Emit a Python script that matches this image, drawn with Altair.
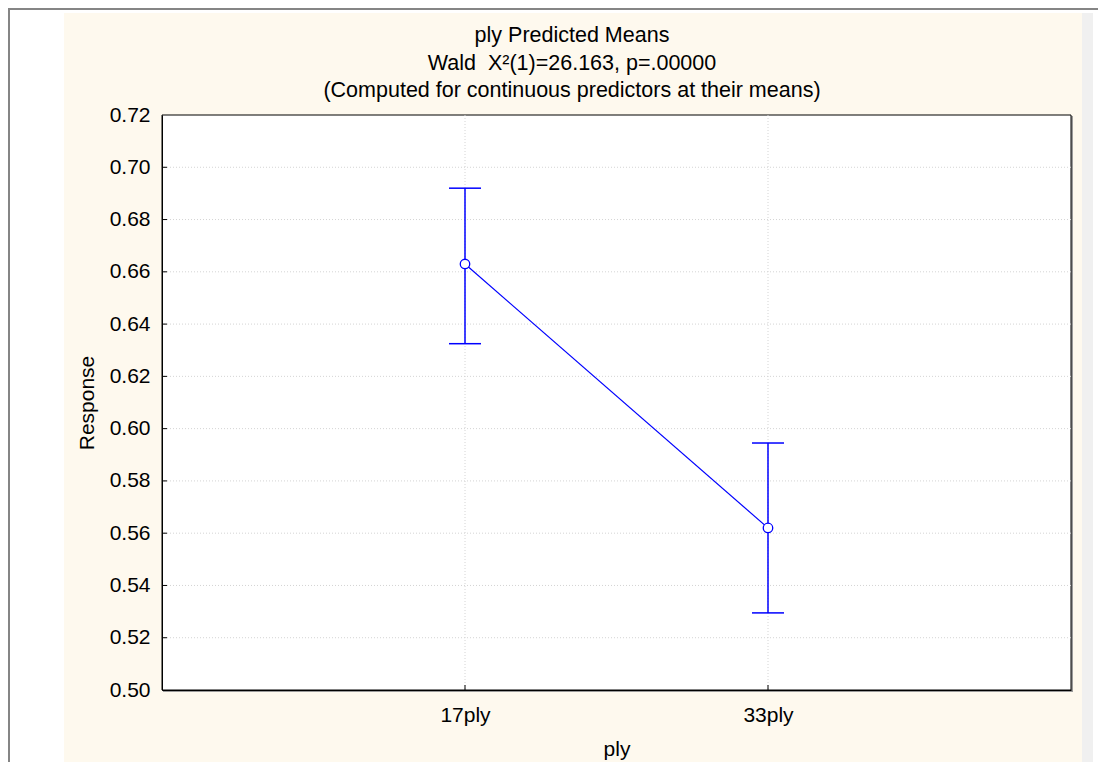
import altair as alt
import pandas as pd

# ---- data ----
plies = ["17ply", "33ply"]
means = [0.663, 0.562]
upper = [0.692, 0.5945]
lower = [0.6325, 0.5295]
y_ticks = [0.50, 0.52, 0.54, 0.56, 0.58, 0.60, 0.62, 0.64, 0.66, 0.68, 0.70, 0.72]

title_lines = [
    "ply Predicted Means",
    "Wald\u00a0 X\u00b2(1)=26.163, p=.00000",
    "(Computed for continuous predictors at their means)",
]

W, H = 909, 575
BLUE = "#0000ff"
FONT = "Liberation Sans"
CREAM = "#fef9ee"

df = pd.DataFrame({"ply": plies, "mean": means, "upper": upper, "lower": lower})
grid_y = pd.DataFrame({"v": y_ticks[1:-1]})
grid_x = pd.DataFrame({"ply": plies})

xs = alt.Scale(type="point", domain=plies, padding=1)
ys = alt.Scale(domain=[0.50, 0.72], nice=False, zero=False)

X = alt.X("ply:N", scale=xs, title="ply",
          axis=alt.Axis(labelAngle=0, labelPadding=14, titlePadding=13, zindex=1))
Y_AX = alt.Axis(values=y_ticks, format=".2f", labelPadding=12, titlePadding=12, zindex=1)

one = alt.Data(values=[{"a": 1}])

# decorative backdrop panels around the cream page
white_l = alt.Chart(one).mark_rect(fill="white").encode(
    x=alt.value(-154), x2=alt.value(-98), y=alt.value(-107), y2=alt.value(660))
white_t = alt.Chart(one).mark_rect(fill="white").encode(
    x=alt.value(-154), x2=alt.value(940), y=alt.value(-107), y2=alt.value(-102))
white_r = alt.Chart(one).mark_rect(fill="white").encode(
    x=alt.value(931), x2=alt.value(940), y=alt.value(-107), y2=alt.value(660))
strip = alt.Chart(one).mark_rect(fill="#f0f0f0").encode(
    x=alt.value(920), x2=alt.value(931), y=alt.value(-102), y2=alt.value(660))
border_l = alt.Chart(one).mark_rect(fill="#858585").encode(
    x=alt.value(-154), x2=alt.value(-152), y=alt.value(-107), y2=alt.value(660))
border_t = alt.Chart(one).mark_rect(fill="#858585").encode(
    x=alt.value(-154), x2=alt.value(940), y=alt.value(-107), y2=alt.value(-105))
shadow = alt.Chart(one).mark_rect(fill="#9a9a9a").encode(
    x=alt.value(1), x2=alt.value(W + 2), y=alt.value(1), y2=alt.value(H + 2))
frame = alt.Chart(one).mark_rect(fill="white", stroke="black", strokeWidth=1).encode(
    x=alt.value(0), x2=alt.value(W), y=alt.value(0), y2=alt.value(H))

# chart title as a centred three-line text block
title = alt.Chart(one).mark_text(
    text="\n".join(title_lines), lineBreak="\n", lineHeight=27.5,
    font=FONT, fontSize=21.5, color="black", align="center", baseline="middle",
).encode(x=alt.value(410), y=alt.value(-79))

gy = alt.Chart(grid_y).mark_rule(color="#d4d4d4", strokeWidth=1, strokeDash=[1, 2]).encode(
    y=alt.Y("v:Q", scale=ys, title="Response", axis=Y_AX))
gx = alt.Chart(grid_x).mark_rule(color="#d4d4d4", strokeWidth=1, strokeDash=[1, 2]).encode(
    x=X)

# small inward ticks on the axes
yt = alt.Chart(grid_y).mark_tick(color="black", size=5, thickness=1, orient="horizontal",
                                 opacity=1).encode(
    y=alt.Y("v:Q", scale=ys, title="Response", axis=Y_AX), x=alt.value(2.5))
xt = alt.Chart(grid_x).mark_tick(color="black", size=5, thickness=1, orient="vertical",
                                 opacity=1).encode(
    x=X, y=alt.value(H - 2.5))

err = alt.Chart(df).mark_rule(color=BLUE, strokeWidth=1.5).encode(
    x=X,
    y=alt.Y("lower:Q", scale=ys, title="Response", axis=Y_AX),
    y2="upper:Q")
cap_hi = alt.Chart(df).mark_tick(color=BLUE, size=32, thickness=1.5, opacity=1).encode(
    x=X, y=alt.Y("upper:Q", scale=ys, title="Response", axis=Y_AX))
cap_lo = alt.Chart(df).mark_tick(color=BLUE, size=32, thickness=1.5, opacity=1).encode(
    x=X, y=alt.Y("lower:Q", scale=ys, title="Response", axis=Y_AX))
line = alt.Chart(df).mark_line(color=BLUE, strokeWidth=1.2).encode(
    x=X, y=alt.Y("mean:Q", scale=ys, title="Response", axis=Y_AX))
pts = alt.Chart(df).mark_point(shape="circle", size=90, filled=False, fill="white",
                               fillOpacity=1, stroke=BLUE, strokeWidth=1.3, opacity=1).encode(
    x=X, y=alt.Y("mean:Q", scale=ys, title="Response", axis=Y_AX))

chart = alt.layer(
    white_l, white_t, white_r, strip, border_l, border_t, shadow, frame, title,
    gy, gx, yt, xt, err, cap_hi, cap_lo, line, pts
).properties(
    width=W, height=H,
    background=CREAM,
    autosize=alt.AutoSizeParams(type="none"),
    padding={"left": 154, "top": 107, "right": 27, "bottom": 72},
).configure_view(stroke=None).configure_axis(
    grid=False, ticks=False, domain=True, domainColor="black", domainWidth=1,
    labelFont=FONT, labelFontSize=21, labelColor="black",
    titleFont=FONT, titleFontSize=21, titleFontWeight="normal", titleColor="black",
)

chart.save("out.html", embed_options={"renderer": "svg", "actions": False})
